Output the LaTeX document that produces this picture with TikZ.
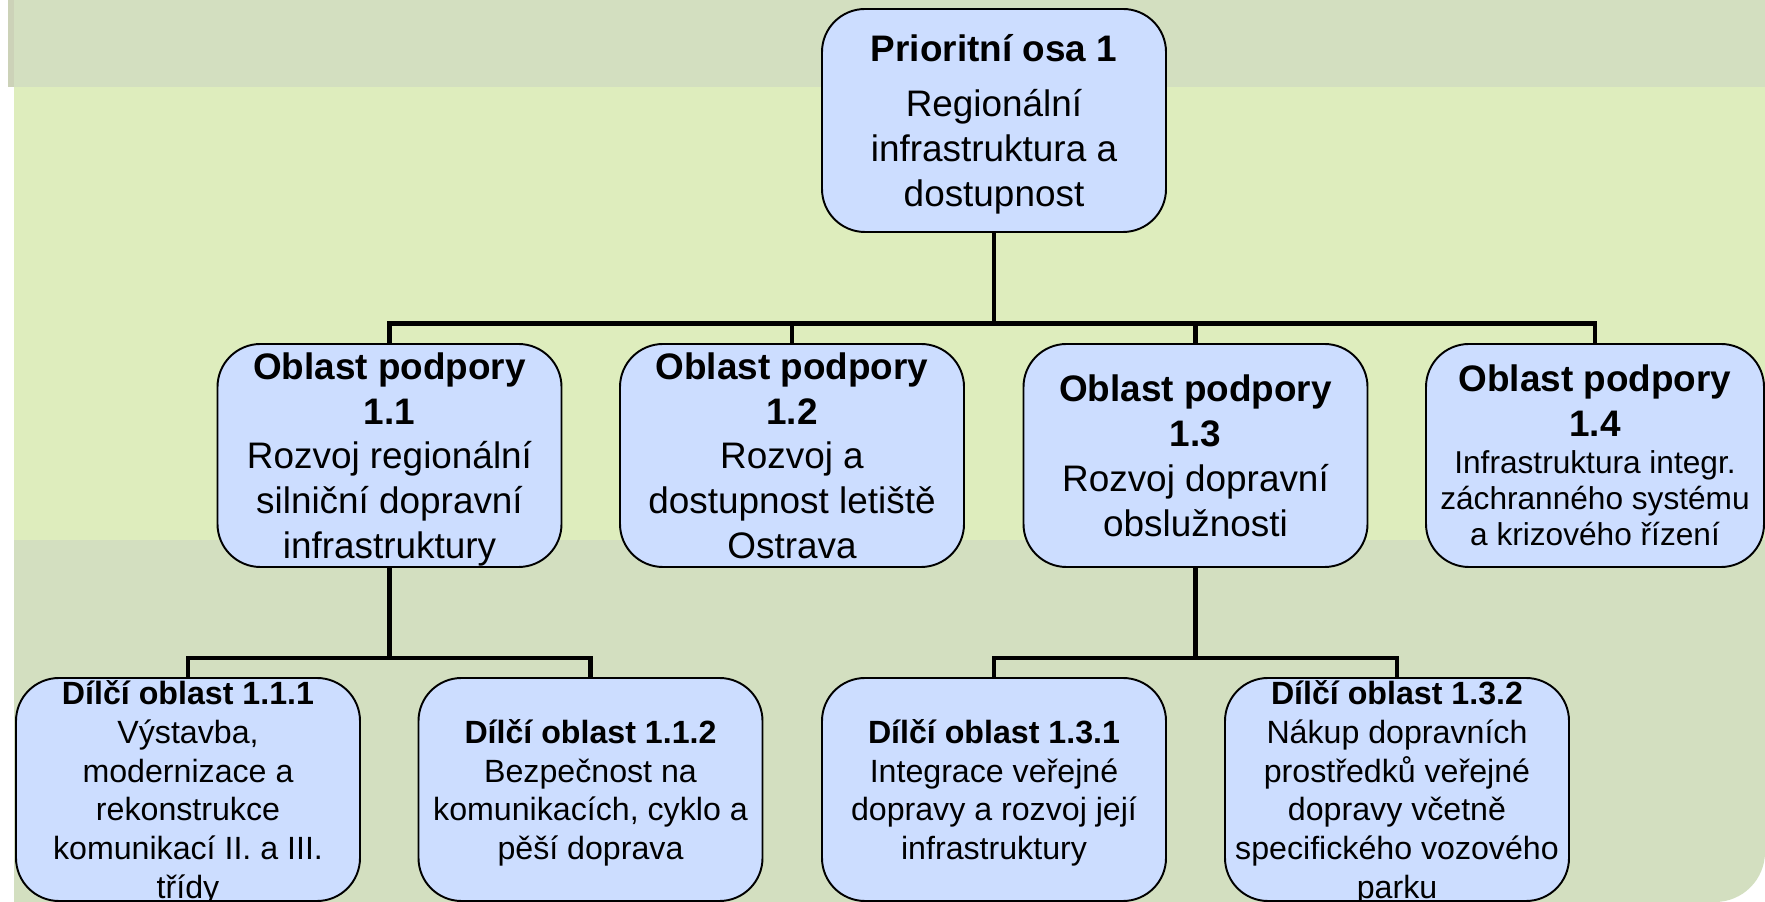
\documentclass[tikz,border=0pt]{standalone}
\usepackage{fontspec}
\setmainfont{Liberation Sans}

\definecolor{boxblue}{RGB}{204,221,255}
\definecolor{bandgrey}{RGB}{211,223,192}
\definecolor{bandgreen}{RGB}{222,237,189}
\definecolor{bandedge}{RGB}{204,210,184}

\begin{document}
\begin{tikzpicture}[
    area/.style={draw, line width=1.1pt, fill=boxblue, rounded corners=0.86cm,
      minimum width=\boxw, minimum height=\boxh, inner xsep=0pt, inner ysep=-12pt,
      align=center, text depth=-1.5pt, font=\fontsize{21}{25.5}\selectfont},
    part/.style={area, text depth=-2pt, font=\fontsize{18.3}{22.1}\selectfont},
    link/.style={line width=2.8pt}
  ]

  % Size of the picture
  \pgfmathsetlengthmacro{\w}{35.3cm}
  \pgfmathsetlengthmacro{\h}{18.04cm}
  % Size of the boxes
  \pgfmathsetlengthmacro{\boxw}{6.88cm}
  \pgfmathsetlengthmacro{\boxh}{4.46cm}
  % Drop from a box to its bus line
  \pgfmathsetlengthmacro{\drop}{1.82cm}

  \useasboundingbox (0,0) rectangle (\w,\h);

  % Background bands
  \fill[white] (0,0) rectangle (\w,\h);
  \fill[bandgrey] (0.28,0) -- (34.3,0) arc[start angle=-90, end angle=0, radius=1cm]
    -- (\w,\h) -- (0.28,\h) -- cycle;
  \fill[bandgreen] (0.28,7.24) rectangle (\w,16.30);
  \fill[bandedge] (0.16,16.30) rectangle (0.28,\h);

  % Priority axis
  \node[area, text depth=-2pt] (po1) at (19.88,15.63) {\textbf{Prioritní osa 1}\\[6pt]Regionální\\infrastruktura a\\dostupnost};

  % Support areas
  \node[area] (op11) at (7.79,8.93) {\textbf{Oblast podpory}\\\textbf{1.1}\\Rozvoj regionální\\silniční dopravní\\infrastruktury};
  \node[area] (op12) at (15.84,8.93) {\textbf{Oblast podpory}\\\textbf{1.2}\\Rozvoj a\\dostupnost letiště\\Ostrava};
  \node[area] (op13) at (23.91,8.93) {\textbf{Oblast podpory}\\\textbf{1.3}\\Rozvoj dopravní\\obslužnosti};
  \node[area, text depth=-3pt, minimum width=6.76cm] (op14) at (31.9,8.93) {\textbf{Oblast podpory}\\\textbf{1.4}\\[-4.5pt]{\fontsize{18}{20.4}\selectfont Infrastruktura integr.}\\[-5pt]{\fontsize{18}{20.4}\selectfont záchranného systému}\\[-5pt]{\fontsize{18}{20.4}\selectfont a krizového řízení}};

  % Sub-areas
  \node[part] (do111) at (3.76,2.25) {\textbf{Dílčí oblast 1.1.1}\\Výstavba,\\modernizace a\\rekonstrukce\\komunikací II. a III.\\třídy};
  \node[part] (do112) at (11.81,2.25) {\textbf{Dílčí oblast 1.1.2}\\Bezpečnost na\\komunikacích, cyklo a\\pěší doprava};
  \node[part] (do131) at (19.88,2.25) {\textbf{Dílčí oblast 1.3.1}\\Integrace veřejné\\dopravy a rozvoj její\\infrastruktury};
  \node[part] (do132) at (27.94,2.25) {\textbf{Dílčí oblast 1.3.2}\\Nákup dopravních\\prostředků veřejné\\dopravy včetně\\specifického vozového\\parku};

  % Bus lines between the levels
  \path (po1.south) ++(0,-\drop) coordinate (bus1);
  \path (op11.south) ++(0,-1.8cm) coordinate (bus11);
  \path (op13.south) ++(0,-1.8cm) coordinate (bus13);

  \foreach \n in {op11,op12,op13,op14}
    \draw[link] (po1.south) -- (bus1) -| (\n.north);
  \foreach \n in {do111,do112}
    \draw[link] (op11.south) -- (bus11) -| (\n.north);
  \foreach \n in {do131,do132}
    \draw[link] (op13.south) -- (bus13) -| (\n.north);

\end{tikzpicture}
\end{document}
